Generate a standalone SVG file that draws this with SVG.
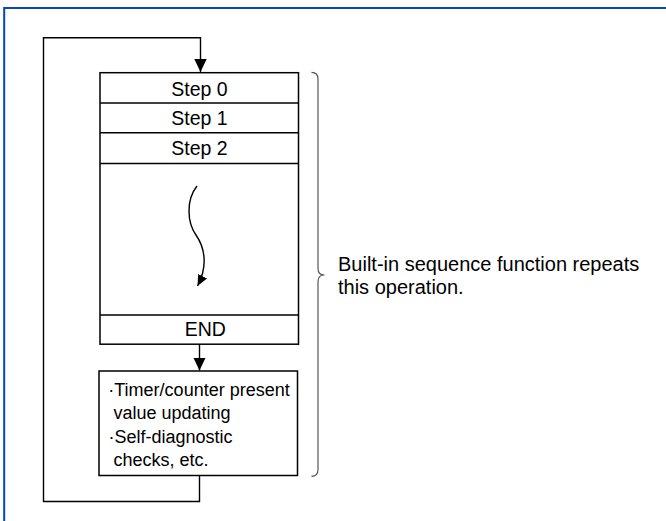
<svg xmlns="http://www.w3.org/2000/svg" width="666" height="521" viewBox="0 0 666 521">
<style>
.box{fill:#fff;stroke:#000;stroke-width:1.5}
.sep{stroke:#000;stroke-width:1.5}
.line{fill:none;stroke:#000;stroke-width:1.4}
.step{font-family:"Liberation Sans",Arial,sans-serif;font-size:19.5px;fill:#000;text-anchor:middle}
.body{font-family:"Liberation Sans",Arial,sans-serif;font-size:18px;fill:#000}
.note{font-family:"Liberation Sans",Arial,sans-serif;font-size:20px;fill:#000}
</style>
<defs>
<marker id="ah" markerUnits="userSpaceOnUse" markerWidth="14" markerHeight="14" viewBox="0 0 14 14" refX="13" refY="7" orient="auto">
<path d="M0,0.8 L13,7 L0,13.2 Z" fill="#000"/>
</marker>
<marker id="ahs" markerUnits="userSpaceOnUse" markerWidth="12" markerHeight="12" viewBox="0 0 12 12" refX="11" refY="6" orient="auto">
<path d="M0,1 L11,6 L0,11 Z" fill="#000"/>
</marker>
</defs>
<rect width="666" height="521" fill="#fff"/>
<path d="M4.2,521 V7.9 H666" fill="none" stroke="#0047c4" stroke-width="2"/>

<g id="program">
<rect class="box" x="100" y="72.7" width="198.5" height="271.5"/>
<line class="sep" x1="100" y1="103" x2="298.5" y2="103"/>
<line class="sep" x1="100" y1="132.8" x2="298.5" y2="132.8"/>
<line class="sep" x1="100" y1="163.6" x2="298.5" y2="163.6"/>
<line class="sep" x1="100" y1="315" x2="298.5" y2="315"/>
</g>
<g id="step0"><text class="step" x="199.5" y="95.5">Step 0</text></g>
<g id="step1"><text class="step" x="199.5" y="124.5">Step 1</text></g>
<g id="step2"><text class="step" x="199.5" y="155">Step 2</text></g>
<g id="end"><text class="step" x="205.3" y="336">END</text></g>

<g id="housekeeping">
<rect class="box" x="99" y="371" width="198.5" height="104.5"/>
<text class="body" x="108.3" y="396">·Timer/counter present</text>
<text class="body" x="113.5" y="419.3">value updating</text>
<text class="body" x="108.5" y="442.6">·Self-diagnostic</text>
<text class="body" x="113.5" y="466">checks, etc.</text>
</g>

<g id="connectors">
<path class="line" d="M199.5,475.5 V501.5 H43.5 V37.7 H200.5 V72" marker-end="url(#ah)"/>
<path class="line" d="M199.5,344 V370.5" marker-end="url(#ah)"/>
<path d="M197,186 C186,200 187,222 196,235 C205,248 208,266 197.5,286" fill="none" stroke="#000" stroke-width="1.4" marker-end="url(#ahs)"/>
</g>

<g id="note">
<path d="M311.5,72.3 Q318,72.3 318,79 V268.5 Q318,275 324.5,275 Q318,275 318,281.5 V469.5 Q318,476.3 311.5,476.3" fill="none" stroke="#555" stroke-width="1.2"/>
<text class="note" x="338" y="271">Built-in sequence function repeats</text>
<text class="note" x="338" y="293.5">this operation.</text>
</g>
</svg>
